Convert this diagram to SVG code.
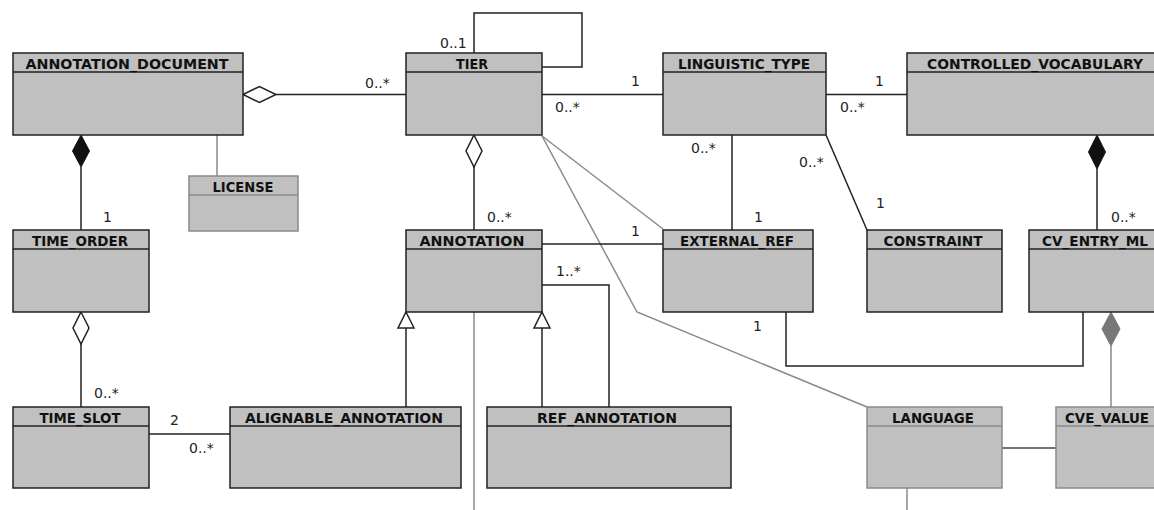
<svg xmlns="http://www.w3.org/2000/svg" width="1154" height="510" viewBox="0 0 1154 510">
<style>
.box{fill:#c0c0c0;stroke:#222;stroke-width:1.5}
.gbox{fill:#c0c0c0;stroke:#8a8a8a;stroke-width:1.5}
.div{stroke:#222;stroke-width:1.5}
.gdiv{stroke:#8a8a8a;stroke-width:1.5}
.hd{font-family:"DejaVu Sans",sans-serif;font-weight:bold;font-size:14.5px;fill:#111;text-anchor:middle}
.lbl{font-family:"DejaVu Sans",sans-serif;font-size:14px;fill:#222}
.ln{stroke:#222;stroke-width:1.5;fill:none}
.gl{stroke:#8a8a8a;stroke-width:1.5;fill:none}
.od{fill:#fff;stroke:#222;stroke-width:1.5}
.fd{fill:#111;stroke:#111;stroke-width:1}
.gd{fill:#777;stroke:#777;stroke-width:1}
</style>
<rect width="1154" height="510" fill="#fff"/>
<g id="connectors">
  <line class="ln" x1="276" y1="94.5" x2="406" y2="94.5"/>
  <polygon class="od" points="243,94.5 259.5,86.5 276,94.5 259.5,102.5"/>
  <line class="gl" x1="217" y1="135" x2="217" y2="176"/>
  <line class="ln" x1="81" y1="167" x2="81" y2="230"/>
  <polygon class="fd" points="81,135 89.5,151 81,167 72.5,151"/>
  <polyline class="ln" points="474,53 474,13 582,13 582,67 542,67"/>
  <line class="ln" x1="542" y1="94.5" x2="663" y2="94.5"/>
  <line class="ln" x1="826" y1="94.5" x2="907" y2="94.5"/>
  <line class="ln" x1="474" y1="167" x2="474" y2="230"/>
  <polygon class="od" points="474,135 482,151 474,167 466,151"/>
  <line class="gl" x1="542" y1="136" x2="663" y2="229"/>
  <polyline class="gl" points="542,136 637,312 867,407"/>
  <line class="ln" x1="732" y1="135" x2="732" y2="230"/>
  <line class="ln" x1="826" y1="135" x2="867" y2="230"/>
  <line class="ln" x1="1097" y1="169" x2="1097" y2="230"/>
  <polygon class="fd" points="1097,135 1105.5,152 1097,169 1088.5,152"/>
  <line class="ln" x1="542" y1="244" x2="663" y2="244"/>
  <polyline class="ln" points="542,285 609,285 609,407"/>
  <line class="ln" x1="406" y1="328" x2="406" y2="407"/>
  <polygon class="od" points="406,312 414,328 398,328"/>
  <line class="ln" x1="542" y1="328" x2="542" y2="407"/>
  <polygon class="od" points="542,312 550,328 534,328"/>
  <line class="gl" x1="474" y1="312" x2="474" y2="510"/>
  <line class="ln" x1="81" y1="344" x2="81" y2="407"/>
  <polygon class="od" points="81,312 89,328 81,344 73,328"/>
  <line class="ln" x1="149" y1="434" x2="230" y2="434"/>
  <polyline class="ln" points="786,312 786,366 1083,366 1083,312"/>
  <line class="gl" x1="1111" y1="346" x2="1111" y2="407"/>
  <polygon class="gd" points="1111,312 1120,329 1111,346 1102,329"/>
  <line x1="1002" y1="448" x2="1056" y2="448" stroke="#444" stroke-width="1.5"/>
  <line class="gl" x1="907" y1="488" x2="907" y2="510"/>
  <text class="lbl" x="365" y="88">0..*</text>
  <text class="lbl" x="103" y="222">1</text>
  <text class="lbl" x="440" y="48">0..1</text>
  <text class="lbl" x="631" y="86">1</text>
  <text class="lbl" x="555" y="112">0..*</text>
  <text class="lbl" x="875" y="86">1</text>
  <text class="lbl" x="840" y="112">0..*</text>
  <text class="lbl" x="487" y="222">0..*</text>
  <text class="lbl" x="691" y="153">0..*</text>
  <text class="lbl" x="754" y="222">1</text>
  <text class="lbl" x="799" y="167">0..*</text>
  <text class="lbl" x="876" y="208">1</text>
  <text class="lbl" x="1111" y="222">0..*</text>
  <text class="lbl" x="631" y="236">1</text>
  <text class="lbl" x="556" y="276">1..*</text>
  <text class="lbl" x="94" y="398">0..*</text>
  <text class="lbl" x="170" y="425">2</text>
  <text class="lbl" x="189" y="453">0..*</text>
  <text class="lbl" x="753" y="331">1</text>
</g>
<g id="ANNOTATION_DOCUMENT">
  <rect class="box" x="13" y="53" width="230" height="82"/>
  <line class="div" x1="13" y1="72" x2="243" y2="72"/>
  <text class="hd" x="127" y="69" textLength="203" lengthAdjust="spacingAndGlyphs">ANNOTATION_DOCUMENT</text>
</g>
<g id="TIER">
  <rect class="box" x="406" y="53" width="136" height="82"/>
  <line class="div" x1="406" y1="72" x2="542" y2="72"/>
  <text class="hd" x="472" y="69" textLength="32" lengthAdjust="spacingAndGlyphs">TIER</text>
</g>
<g id="LINGUISTIC_TYPE">
  <rect class="box" x="663" y="53" width="163" height="82"/>
  <line class="div" x1="663" y1="72" x2="826" y2="72"/>
  <text class="hd" x="744" y="69" textLength="132" lengthAdjust="spacingAndGlyphs">LINGUISTIC_TYPE</text>
</g>
<g id="CONTROLLED_VOCABULARY">
  <rect class="box" x="907" y="53" width="256" height="82"/>
  <line class="div" x1="907" y1="72" x2="1163" y2="72"/>
  <text class="hd" x="1035" y="69" textLength="216" lengthAdjust="spacingAndGlyphs">CONTROLLED_VOCABULARY</text>
</g>
<g id="LICENSE">
  <rect class="gbox" x="189" y="176" width="109" height="55"/>
  <line class="gdiv" x1="189" y1="195" x2="298" y2="195"/>
  <text class="hd" x="243" y="192" textLength="61" lengthAdjust="spacingAndGlyphs">LICENSE</text>
</g>
<g id="TIME_ORDER">
  <rect class="box" x="13" y="230" width="136" height="82"/>
  <line class="div" x1="13" y1="249" x2="149" y2="249"/>
  <text class="hd" x="80" y="246" textLength="96" lengthAdjust="spacingAndGlyphs">TIME_ORDER</text>
</g>
<g id="ANNOTATION">
  <rect class="box" x="406" y="230" width="136" height="82"/>
  <line class="div" x1="406" y1="249" x2="542" y2="249"/>
  <text class="hd" x="472" y="246" textLength="105" lengthAdjust="spacingAndGlyphs">ANNOTATION</text>
</g>
<g id="EXTERNAL_REF">
  <rect class="box" x="663" y="230" width="150" height="82"/>
  <line class="div" x1="663" y1="249" x2="813" y2="249"/>
  <text class="hd" x="737" y="246" textLength="114" lengthAdjust="spacingAndGlyphs">EXTERNAL_REF</text>
</g>
<g id="CONSTRAINT">
  <rect class="box" x="867" y="230" width="135" height="82"/>
  <line class="div" x1="867" y1="249" x2="1002" y2="249"/>
  <text class="hd" x="933" y="246" textLength="99" lengthAdjust="spacingAndGlyphs">CONSTRAINT</text>
</g>
<g id="CV_ENTRY_ML">
  <rect class="box" x="1029" y="230" width="134" height="82"/>
  <line class="div" x1="1029" y1="249" x2="1163" y2="249"/>
  <text class="hd" x="1095" y="246" textLength="106" lengthAdjust="spacingAndGlyphs">CV_ENTRY_ML</text>
</g>
<g id="TIME_SLOT">
  <rect class="box" x="13" y="407" width="136" height="81"/>
  <line class="div" x1="13" y1="426" x2="149" y2="426"/>
  <text class="hd" x="80" y="423" textLength="81" lengthAdjust="spacingAndGlyphs">TIME_SLOT</text>
</g>
<g id="ALIGNABLE_ANNOTATION">
  <rect class="box" x="230" y="407" width="231" height="81"/>
  <line class="div" x1="230" y1="426" x2="461" y2="426"/>
  <text class="hd" x="344" y="423" textLength="198" lengthAdjust="spacingAndGlyphs">ALIGNABLE_ANNOTATION</text>
</g>
<g id="REF_ANNOTATION">
  <rect class="box" x="487" y="407" width="244" height="81"/>
  <line class="div" x1="487" y1="426" x2="731" y2="426"/>
  <text class="hd" x="607" y="423" textLength="140" lengthAdjust="spacingAndGlyphs">REF_ANNOTATION</text>
</g>
<g id="LANGUAGE">
  <rect class="gbox" x="867" y="407" width="135" height="81"/>
  <line class="gdiv" x1="867" y1="426" x2="1002" y2="426"/>
  <text class="hd" x="933" y="423" textLength="82" lengthAdjust="spacingAndGlyphs">LANGUAGE</text>
</g>
<g id="CVE_VALUE">
  <rect class="gbox" x="1056" y="407" width="107" height="81"/>
  <line class="gdiv" x1="1056" y1="426" x2="1163" y2="426"/>
  <text class="hd" x="1107" y="423" textLength="84" lengthAdjust="spacingAndGlyphs">CVE_VALUE</text>
</g>
</svg>
